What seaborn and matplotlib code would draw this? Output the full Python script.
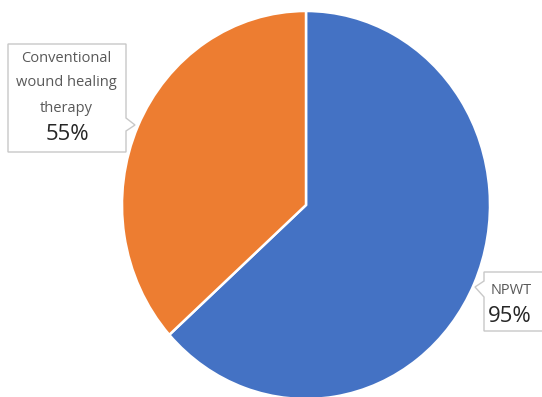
import matplotlib
matplotlib.use("Agg")
import matplotlib.pyplot as plt
from matplotlib.patches import Polygon
import seaborn as sns

# data
labels = ["NPWT", "Conventional wound healing therapy"]
values = [95, 55]
colors = ["#4472C4", "#ED7D31"]

sns.set_theme(style="white")
plt.rcParams["font.family"] = ["Open Sans", "DejaVu Sans"]

W, H = 542, 397
fig = plt.figure(figsize=(W / 100, H / 100), dpi=100)
ax = fig.add_axes([0, 0, 1, 1])

# pie slightly stretched vertically like the original
cx, cy, rx, ry = 306, 205, 184, 194
ax.pie(values, colors=colors, startangle=90, counterclock=False,
       wedgeprops=dict(edgecolor="white", linewidth=1.8))
ax.set_aspect("auto")
ax.set_xlim(-cx / rx, (W - cx) / rx)
ax.set_ylim((cy - H) / ry, cy / ry)
ax.axis("off")


def px(x, y):
    return (x / W, 1 - y / H)


def callout(pts):
    poly = Polygon([px(*p) for p in pts], closed=True, transform=fig.transFigure,
                   facecolor="white", edgecolor="#C8C8C8", linewidth=1, zorder=5)
    fig.patches.append(poly)


# Conventional label box (pointer on right side)
callout([(8, 44), (126, 44), (126, 118), (135, 125), (126, 131), (126, 152), (8, 152)])
# NPWT label box (pointer on left side)
callout([(484, 272), (560, 272), (560, 331), (484, 331), (484, 297), (475, 287), (484, 281)])

gray = "#595959"
dark = "#262626"
conv_lines = ["Conventional", "wound healing", "therapy"]
for txt, y in zip(conv_lines, [59, 82, 109]):
    fig.text(*px(66, y), txt, ha="center", va="center", fontsize=10.5, color=gray, zorder=6)
fig.text(*px(67, 134), f"{values[1]}%", ha="center", va="center", fontsize=16, color=dark, zorder=6)

fig.text(*px(491, 290), labels[0], ha="left", va="center", fontsize=10.5, color=gray, zorder=6)
fig.text(*px(488, 317), f"{values[0]}%", ha="left", va="center", fontsize=16, color=dark, zorder=6)

fig.savefig("out.png", dpi=100)
